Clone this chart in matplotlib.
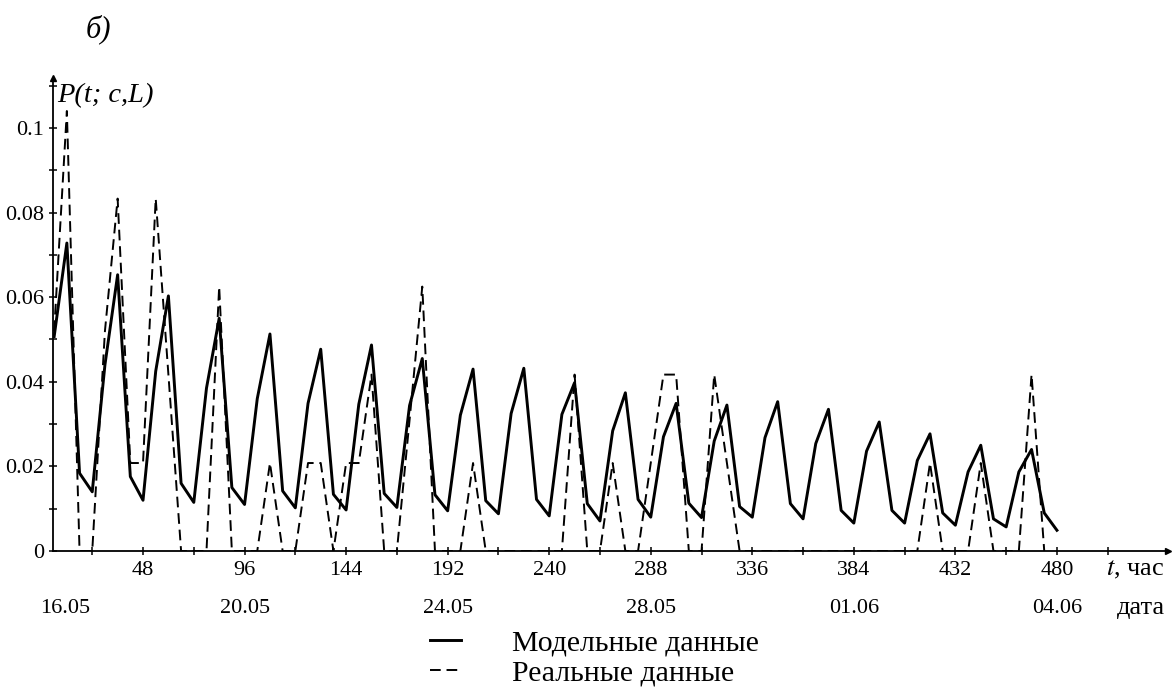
import numpy as np
import matplotlib
matplotlib.use("Agg")
import matplotlib.pyplot as plt
from matplotlib.ticker import FixedLocator, FuncFormatter

plt.rcParams['font.family'] = ['Liberation Serif', 'DejaVu Serif']
plt.rcParams['mathtext.fontset'] = 'stix'

# time, hours (6 h step)
t_model = np.arange(6, 481, 6)
p_model = [
    0.0507, 0.0728, 0.0184, 0.0140, 0.0440, 0.0653, 0.0176, 0.0120,
    0.0425, 0.0603, 0.0160, 0.0115, 0.0385, 0.0550, 0.0150, 0.0110,
    0.0360, 0.0513, 0.0142, 0.0102, 0.0349, 0.0477, 0.0134, 0.0097,
    0.0347, 0.0487, 0.0136, 0.0103, 0.0344, 0.0455, 0.0133, 0.0095,
    0.0321, 0.0430, 0.0119, 0.0088, 0.0325, 0.0432, 0.0122, 0.0083,
    0.0323, 0.0398, 0.0112, 0.0071, 0.0284, 0.0374, 0.0122, 0.0080,
    0.0270, 0.0349, 0.0113, 0.0079, 0.0260, 0.0345, 0.0105, 0.0080,
    0.0268, 0.0353, 0.0112, 0.0076, 0.0254, 0.0335, 0.0096, 0.0066,
    0.0236, 0.0305, 0.0096, 0.0066, 0.0214, 0.0277, 0.0090, 0.0061,
    0.0187, 0.0250, 0.0076, 0.0057, 0.0187, 0.0240, 0.0090, 0.0049,
]

t_real = np.arange(6, 475, 6)
p_real = [
    0.052, 0.104, 0.0, 0.0, 0.052, 0.0833, 0.0208, 0.0208,
    0.0833, 0.0417, 0.0, 0.0, 0.0, 0.0625, 0.0, 0.0,
    0.0, 0.0208, 0.0, 0.0, 0.0208, 0.0208, 0.0, 0.0208,
    0.0208, 0.0417, 0.0, 0.0, 0.031, 0.0625, 0.0, 0.0,
    0.0, 0.0208, 0.0, 0.0, 0.0, 0.0, 0.0, 0.0,
    0.0, 0.0417, 0.0, 0.0, 0.0208, 0.0, 0.0, 0.0208,
    0.0417, 0.0417, 0.0, 0.0, 0.0417, 0.0208, 0.0, 0.0,
    0.0, 0.0, 0.0, 0.0, 0.0, 0.0, 0.0, 0.0,
    0.0, 0.0, 0.0, 0.0, 0.0, 0.0208, 0.0, 0.0,
    0.0, 0.0208, 0.0, 0.0, 0.0, 0.0417, 0.0,
]

date_labels = ['16.05', '20.05', '24.05', '28.05', '01.06', '04.06']
date_pos = [11, 96, 192, 288, 384, 480]

fig = plt.figure(figsize=(11.76, 6.88), dpi=100)
ax = fig.add_axes([0.0448, 0.1991, 0.9484, 0.6875])

ax.plot(t_model, p_model, color='black', lw=2.1, label='Модельные данные')
ax.plot(t_real, p_real, color='black', lw=1.4, dashes=(5.5, 3), label='Реальные данные')

ax.set_xlim(5.3, 532.5)
ax.set_ylim(0, 0.1118)

for s in ['top', 'right']:
    ax.spines[s].set_visible(False)
for s in ['left', 'bottom']:
    ax.spines[s].set_linewidth(1.3)

# arrows at the axis ends
ax.plot(1, 0, '>k', ms=5, transform=ax.transAxes, clip_on=False)
ax.plot(0, 1, '^k', ms=5, transform=ax.transAxes, clip_on=False)

ax.xaxis.set_major_locator(FixedLocator(np.arange(48, 481, 48)))
ax.xaxis.set_minor_locator(FixedLocator(np.arange(24, 529, 48)))
ax.yaxis.set_major_locator(FixedLocator([0, 0.02, 0.04, 0.06, 0.08, 0.1]))
ax.yaxis.set_minor_locator(FixedLocator([0.01, 0.03, 0.05, 0.07, 0.09, 0.11]))
ax.yaxis.set_major_formatter(FuncFormatter(lambda v, p: '0' if v == 0 else ('%g' % v)))

ax.tick_params(which='both', direction='inout', length=6, width=1.1, labelsize=16)
ax.tick_params(axis='x', pad=4)
ax.tick_params(axis='y', pad=3)

ax.text(531, -0.04, '$t$, час', transform=ax.get_xaxis_transform(),
        ha='right', va='center', fontsize=19)
for lab, pos in zip(date_labels, date_pos):
    ax.text(pos, -0.121, lab, transform=ax.get_xaxis_transform(),
            ha='center', va='center', fontsize=16)
ax.text(531, -0.121, 'дата', transform=ax.get_xaxis_transform(),
        ha='right', va='center', fontsize=19)

ax.text(7.3, 0.962, 'P(t; c,L)', transform=ax.get_xaxis_transform(),
        ha='left', va='center', fontsize=20.5, fontstyle='italic')
fig.text(98 / 1176, 1 - 29 / 688, 'б)', ha='center', va='center',
         fontsize=22, fontstyle='italic')

fig.legend(loc='center left', bbox_to_anchor=(430 / 1176, 1 - 658 / 688),
           frameon=False, fontsize=21.5, handlelength=1.05, handletextpad=1.7,
           labelspacing=0.12, borderpad=0, borderaxespad=0)

plt.savefig('out.png', dpi=100)
